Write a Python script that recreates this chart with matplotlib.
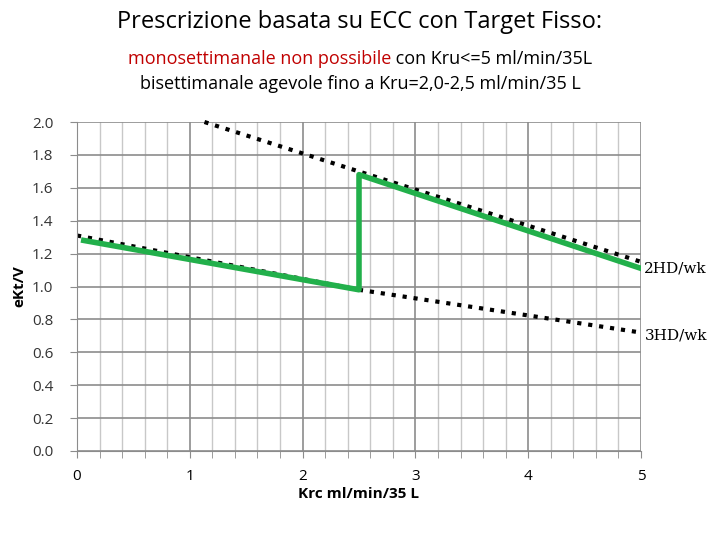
import matplotlib
matplotlib.use("Agg")
import matplotlib.pyplot as plt
import numpy as np

upper_x = [1.13, 5.0]
upper_y = [2.0, 1.15]
lower_x = [0.0, 2.5, 5.0]
lower_y = [1.31, 0.98, 0.72]
green_x = [0.06, 2.5, 2.5, 5.0]
green_y = [1.28, 0.98, 1.68, 1.11]
yticks = [0.0, 0.2, 0.4, 0.6, 0.8, 1.0, 1.2, 1.4, 1.6, 1.8, 2.0]
xticks = [0, 1, 2, 3, 4, 5]

plt.rcParams['font.family'] = ['Open Sans', 'DejaVu Sans']
fig = plt.figure(figsize=(7.2, 5.4), dpi=100)
ax = fig.add_axes([77/720, 1-451/540, (641-77)/720, (451-122)/540])
ax.set_xlim(0, 5)
ax.set_ylim(0, 2.0)
ax.set_xticks(xticks)
ax.set_xticks(np.arange(0, 5.01, 0.2), minor=True)
ax.set_yticks(yticks)
ax.set_yticklabels([f"{v:.1f}" for v in yticks], fontsize=11, color='#333333')
ax.set_xticklabels([str(v) for v in xticks], fontsize=11)
ax.tick_params(axis='x', pad=8)
ax.grid(True, which='major', color='#8c8c8c', lw=1.2)
ax.grid(True, which='minor', axis='x', color='#c8c8c8', lw=1.0)
for s in ['top', 'right']:
    ax.spines[s].set_visible(False)
ax.spines['left'].set_color('#8c8c8c')
ax.spines['bottom'].set_color('#8c8c8c')
ax.tick_params(which='both', color='#8c8c8c', length=5)
ax.tick_params(axis='y', pad=12)
ax.plot(upper_x, upper_y, ':', color='black', lw=3, clip_on=False)
ax.plot(lower_x, lower_y, ':', color='black', lw=3)
ax.plot(green_x, green_y, '-', color='#22b04b', lw=4)
ax.text(5.03, 1.11, "2HD/wk", family='DejaVu Serif', fontsize=11, va='center')
ax.text(5.03, 0.70, "3HD/wk", family='DejaVu Serif', fontsize=11, va='center')
ax.set_xlabel("Krc ml/min/35 L", fontsize=11, fontweight='bold', labelpad=2)
ax.set_ylabel("eKt/V", fontsize=11, fontweight='bold', labelpad=4)
fig.text(0.5, 1-22/540, "Prescrizione basata su ECC con Target Fisso:", ha='center', va='center', fontsize=17)
# subtitle line 1: red part + black part, centered together
r = fig.canvas.get_renderer()
t1 = fig.text(0, 1-59/540, "monosettimanale non possibile", ha='left', va='center', fontsize=13, color='#c00000')
t2 = fig.text(0, 1-59/540, " con Kru<=5 ml/min/35L", ha='left', va='center', fontsize=13, color='black')
w1 = t1.get_window_extent(r).width / 720
w2 = t2.get_window_extent(r).width / 720
x0 = 0.5 - (w1 + w2) / 2
t1.set_x(x0)
t2.set_x(x0 + w1)
fig.text(0.5, 1-84/540, "bisettimanale agevole fino a Kru=2,0-2,5 ml/min/35 L", ha='center', va='center', fontsize=13)
fig.savefig("out.png", dpi=100)
